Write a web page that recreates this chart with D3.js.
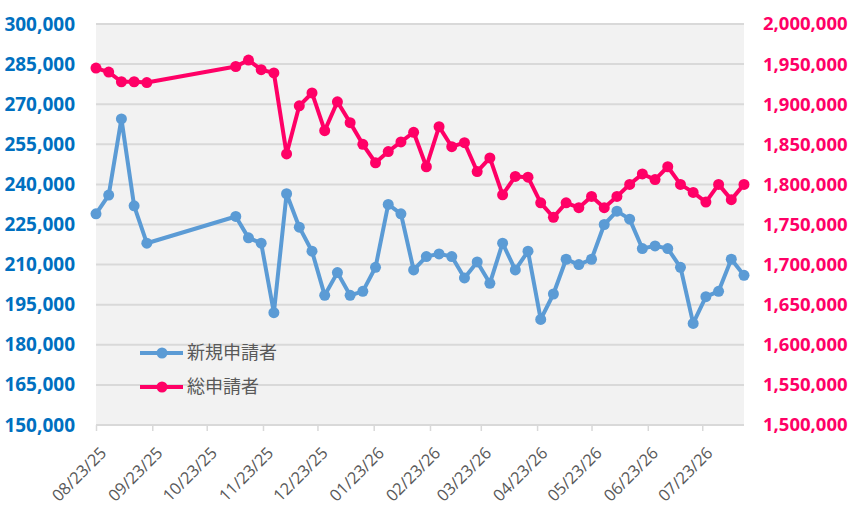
<!DOCTYPE html>
<html>
<head>
<meta charset="utf-8">
<title>applicants</title>
<script src="https://cdn.jsdelivr.net/npm/d3@7"></script>
<style>
  body { margin: 0; background: #ffffff; }
  svg { display: block; }
</style>
</head>
<body>
<svg id="mainsvg" width="851" height="520"></svg>
<script>
// data
const weekDates = [
  '2025-08-23', '2025-08-30', '2025-09-06', '2025-09-13', '2025-09-20',
  '2025-11-08', '2025-11-15', '2025-11-22', '2025-11-29',
  '2025-12-06', '2025-12-13', '2025-12-20', '2025-12-27',
  '2026-01-03', '2026-01-10', '2026-01-17', '2026-01-24', '2026-01-31',
  '2026-02-07', '2026-02-14', '2026-02-21', '2026-02-28',
  '2026-03-07', '2026-03-14', '2026-03-21', '2026-03-28',
  '2026-04-04', '2026-04-11', '2026-04-18', '2026-04-25',
  '2026-05-02', '2026-05-09', '2026-05-16', '2026-05-23', '2026-05-30',
  '2026-06-06', '2026-06-13', '2026-06-20', '2026-06-27',
  '2026-07-04', '2026-07-11', '2026-07-18', '2026-07-25',
  '2026-08-01', '2026-08-08', '2026-08-15'
];
const newApplicants = [
  229000, 236000, 264500, 232000, 218000,
  228000, 220000, 218000, 192000, 236500, 224000, 215000, 198500,
  207000, 198500, 200000, 209000, 232500, 229000, 208000, 213000,
  214000, 213000, 205000, 211000, 203000, 218000, 208000, 215000,
  189500, 199000, 212000, 210000, 212000, 225000, 230000, 227000,
  216000, 217000, 216000, 209000, 188000, 198000, 200000, 212000, 206000
];
const totalApplicants = [
  1945000, 1940000, 1928000, 1928000, 1927000,
  1947000, 1955000, 1943000, 1939000, 1838000, 1898000, 1914000, 1867000,
  1903000, 1877000, 1850000, 1827000, 1841000, 1853000, 1865000, 1822000,
  1872000, 1847000, 1852000, 1816000, 1833000, 1787000, 1810000, 1809000,
  1777000, 1759000, 1777000, 1771000, 1785000, 1771000, 1785000, 1800000,
  1813000, 1806000, 1822000, 1800000, 1790000, 1778000, 1800000, 1781000, 1800000
];
const tickDates = [
  '2025-08-23', '2025-09-23', '2025-10-23', '2025-11-23', '2025-12-23', '2026-01-23',
  '2026-02-23', '2026-03-23', '2026-04-23', '2026-05-23', '2026-06-23', '2026-07-23'
];
const leftTicks = [150000, 165000, 180000, 195000, 210000, 225000, 240000, 255000, 270000, 285000, 300000];
const rightTicks = [1500000, 1550000, 1600000, 1650000, 1700000, 1750000, 1800000, 1850000, 1900000, 1950000, 2000000];
const seriesNames = ['新規申請者', '総申請者'];
const seriesColors = ['#5B9BD5', '#FF0066'];

const svg = d3.select('#mainsvg');
const plot = {left: 96, right: 744, top: 24, bottom: 425};
const parse = d3.utcParse('%Y-%m-%d');
const fmtTick = d3.utcFormat('%m/%d/%y');
const fmtNum = d3.format(',');

const dates = weekDates.map(parse);
const xScale = d3.scaleUtc()
  .domain([dates[0], dates[dates.length - 1]])
  .range([plot.left, plot.right]);
const yLeft = d3.scaleLinear().domain([150000, 300000]).range([plot.bottom, plot.top]);
const yRight = d3.scaleLinear().domain([1500000, 2000000]).range([plot.bottom, plot.top]);

// plot background
svg.append('rect')
  .attr('x', plot.left).attr('y', plot.top)
  .attr('width', plot.right - plot.left)
  .attr('height', plot.bottom - plot.top)
  .attr('fill', '#F2F2F2');

// gridlines
svg.append('g').selectAll('line').data(leftTicks).join('line')
  .attr('x1', plot.left).attr('x2', plot.right)
  .attr('y1', d => yLeft(d)).attr('y2', d => yLeft(d))
  .attr('stroke', '#D9D9D9').attr('stroke-width', 2);

// left axis
const leftAxis = d3.axisLeft(yLeft).tickValues(leftTicks).tickFormat(fmtNum).tickSize(0).tickPadding(0);
const gl = svg.append('g').attr('transform', 'translate(75,0)').call(leftAxis);
gl.select('.domain').remove();
gl.selectAll('text')
  .attr('fill', '#0070C0')
  .style('font-family', '"Open Sans", sans-serif')
  .style('font-weight', 'bold')
  .style('font-size', '19px');

// right axis
const rightAxis = d3.axisRight(yRight).tickValues(rightTicks).tickFormat(fmtNum).tickSize(0).tickPadding(0);
const gr = svg.append('g').attr('transform', 'translate(763,0)').call(rightAxis);
gr.select('.domain').remove();
gr.selectAll('text')
  .attr('fill', '#FF0066')
  .style('font-family', '"Open Sans", sans-serif')
  .style('font-weight', 'bold')
  .style('font-size', '18.5px');

// bottom axis
const bottomAxis = d3.axisBottom(xScale).tickValues(tickDates.map(parse)).tickFormat(fmtTick).tickSize(6).tickSizeOuter(0);
const gb = svg.append('g').attr('transform', `translate(0,${plot.bottom})`).call(bottomAxis);
gb.select('.domain').attr('stroke', '#D9D9D9').attr('stroke-width', 2)
  .attr('d', `M${plot.left},0H${plot.right}`);
gb.selectAll('.tick line').attr('stroke', '#D9D9D9').attr('stroke-width', 1.5);
gb.selectAll('.tick text')
  .attr('fill', '#595959')
  .style('font-family', '"Open Sans", sans-serif')
  .style('font-size', '16.5px')
  .attr('text-anchor', 'end')
  .attr('y', 0).attr('dy', 0)
  .attr('transform', 'translate(11,29) rotate(-45)');

// lines
const series = [newApplicants, totalApplicants];
const scales = [yLeft, yRight];
series.forEach((vals, k) => {
  const pts = vals.map((v, i) => [xScale(dates[i]), scales[k](v)]);
  svg.append('path')
    .attr('d', d3.line()(pts))
    .attr('fill', 'none')
    .attr('stroke', seriesColors[k])
    .attr('stroke-width', 4)
    .attr('stroke-linejoin', 'round');
  svg.append('g').selectAll('circle').data(pts).join('circle')
    .attr('cx', d => d[0]).attr('cy', d => d[1]).attr('r', 5.5)
    .attr('fill', seriesColors[k]);
});

// legend
const legend = svg.append('g').selectAll('g').data(seriesNames).join('g')
  .attr('transform', (d, i) => `translate(140,${353 + i * 34})`);
legend.append('line')
  .attr('x1', 0).attr('x2', 43).attr('y1', 0).attr('y2', 0)
  .attr('stroke', (d, i) => seriesColors[i]).attr('stroke-width', 4);
legend.append('circle')
  .attr('cx', 22).attr('cy', 0).attr('r', 5.5)
  .attr('fill', (d, i) => seriesColors[i]);
legend.append('text')
  .attr('x', 47).attr('y', 0).attr('dy', '0.35em')
  .attr('fill', '#595959')
  .style('font-family', '"Noto Sans CJK JP", sans-serif')
  .style('font-size', '18px')
  .text(d => d);
</script>
</body>
</html>
